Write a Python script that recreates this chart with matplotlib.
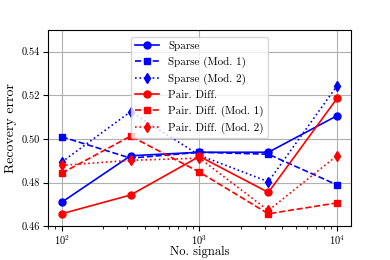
import numpy as np
import matplotlib
matplotlib.use('Agg')
import matplotlib.pyplot as plt

plt.rcParams['font.family'] = 'serif'
plt.rcParams['font.serif'] = ['cmr10']
plt.rcParams['mathtext.fontset'] = 'cm'
plt.rcParams['axes.formatter.use_mathtext'] = True

# data
n_signals = [100, 316, 1000, 3162, 10000]
sparse = [0.4710, 0.4923, 0.4939, 0.4939, 0.5107]
sparse_mod1 = [0.5010, 0.4912, 0.4939, 0.4930, 0.4789]
sparse_mod2 = [0.4894, 0.5125, 0.4925, 0.4804, 0.5245]
pair = [0.4657, 0.4743, 0.4920, 0.4755, 0.5187]
pair_mod1 = [0.4843, 0.5013, 0.4848, 0.4657, 0.4707]
pair_mod2 = [0.4879, 0.4902, 0.4912, 0.4672, 0.4924]

fig, ax = plt.subplots(figsize=(3.9, 2.6), dpi=100)
ms = 5
lw = 1.2
ax.plot(n_signals, sparse, 'b-o', ms=ms, lw=lw, label='Sparse')
ax.plot(n_signals, sparse_mod1, 'b--s', ms=ms, lw=lw, label='Sparse (Mod. 1)')
ax.plot(n_signals, sparse_mod2, 'b:d', ms=ms, lw=lw, label='Sparse (Mod. 2)')
ax.plot(n_signals, pair, 'r-o', ms=ms, lw=lw, label='Pair. Diff.')
ax.plot(n_signals, pair_mod1, 'r--s', ms=ms, lw=lw, label='Pair. Diff. (Mod. 1)')
ax.plot(n_signals, pair_mod2, 'r:d', ms=ms, lw=lw, label='Pair. Diff. (Mod. 2)')

ax.set_xscale('log')
ax.set_ylim(0.46, 0.55)
ax.set_yticks([0.46, 0.48, 0.50, 0.52, 0.54])
ax.set_yticklabels(['0.46', '0.48', '0.50', '0.52', '0.54'])
ax.grid(True, color='#b0b0b0', lw=0.8)
ax.tick_params(labelsize=7.5, pad=2.5)
ax.tick_params(axis='x', pad=1.5)
ax.set_xlabel('No. signals', fontsize=9)
ax.xaxis.set_label_coords(0.5, -0.1)
ax.set_ylabel('Recovery error', fontsize=10, labelpad=3)
ax.legend(loc='upper center', fontsize=8, handlelength=2.2, borderaxespad=0.6)

fig.subplots_adjust(left=0.123, right=0.9, top=0.885, bottom=0.13)
plt.savefig('out.png')
